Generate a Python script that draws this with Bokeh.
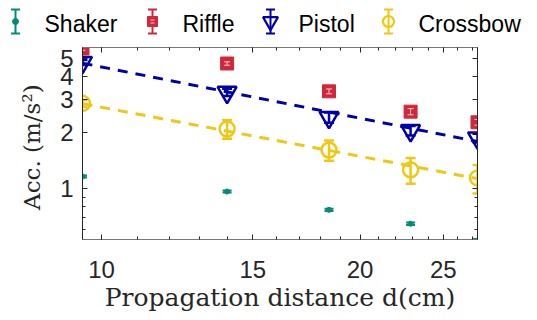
from bokeh.plotting import figure
from bokeh.models import LogAxis, FixedTicker, Range1d, CustomJSTickFormatter
from bokeh.layouts import column
from bokeh.embed import file_html
from bokeh.resources import INLINE
from bokeh.core.properties import value

# ---------------- data ----------------
distance = [9.5, 14.0, 18.4, 22.9, 27.4]

shaker = [1.16, 0.963, 0.768, 0.646, 0.525]
shaker_err = [0.015, 0.012, 0.01, 0.01, 0.01]

riffle = [5.66, 4.70, 3.33, 2.59, 2.27]
riffle_err = [0.12, 0.1, 0.1, 0.1, 0.08]

pistol = [4.76, 3.29, 2.41, 2.05, 1.87]
pistol_err = [0.15, 0.15, 0.15, 0.12, 0.1]

crossbow = [2.87, 2.09, 1.61, 1.26, 1.14]
crossbow_err = [0.12, 0.24, 0.2, 0.2, 0.2]

fit_x = [9.5, 27.4]
pistol_fit = [4.72, 1.79]
crossbow_fit = [2.86, 1.13]

x_ticks = [10, 15, 20, 25]
x_minor = list(range(9, 29))
y_ticks = [1, 2, 3, 4, 5]
y_minor = [0.6, 0.7, 0.8, 0.9]

names = ["Shaker", "Riffle", "Pistol", "Crossbow"]
colors = ["#008b7b", "#d0283a", "#0000a8", "#eec815"]

SANS = "Liberation Sans"
SERIF = "DejaVu Serif"

W = 536
LEG_H = 37
MAIN_H = 282

# ---------------- legend strip ----------------
leg = figure(width=W, height=LEG_H, x_range=Range1d(0, W), y_range=Range1d(0, LEG_H),
             toolbar_location=None, output_backend="svg", min_border=0, frame_align=False)
leg.axis.visible = False
leg.grid.visible = False
leg.outline_line_color = None

icon_x = [15, 152, 270, 388]
text_x = [44, 182, 298, 418]
icon_y = 16
text_y = 13.5
half = 12
for i, (nm, c) in enumerate(zip(names, colors)):
    ix = icon_x[i]
    leg.segment(x0=[ix], y0=[icon_y - half], x1=[ix], y1=[icon_y + half], line_color=c, line_width=2)
    leg.scatter(x=[ix, ix], y=[icon_y - half, icon_y + half], marker="dash", size=9,
                line_color=c, line_width=2)
    if nm == "Shaker":
        leg.scatter(x=[ix], y=[icon_y], marker="circle", size=6, fill_color=c, line_color=c)
    elif nm == "Riffle":
        leg.scatter(x=[ix], y=[icon_y], marker="square", size=10, fill_color=c, line_color=c)
        leg.segment(x0=[ix - 2, ix - 2], y0=[icon_y - 1.5, icon_y + 1.5],
                    x1=[ix + 2, ix + 2], y1=[icon_y - 1.5, icon_y + 1.5],
                    line_color="#f3c6ca", line_width=1)
    elif nm == "Pistol":
        leg.scatter(x=[ix], y=[icon_y], marker="inverted_triangle", size=15, fill_color=None,
                    line_color=c, line_width=2.2)
    else:
        leg.scatter(x=[ix], y=[icon_y], marker="circle", size=11, fill_color=None,
                    line_color=c, line_width=2.2)
    leg.text(x=[text_x[i]], y=[text_y], text=[nm], text_font=value(SANS), text_font_size="23px",
             text_baseline="middle", text_align="left", text_color="#000000")

# ---------------- main plot ----------------
p = figure(width=W, height=MAIN_H, x_axis_type="log", y_axis_type="log",
           x_range=Range1d(9.5, 27.4), y_range=Range1d(0.532, 5.73),
           toolbar_location=None, output_backend="svg", frame_align=False,
           min_border_left=82, min_border_right=59, min_border_top=10, min_border_bottom=80)
p.grid.visible = False
p.outline_line_color = "#555555"
p.outline_line_width = 1
p.background_fill_color = "white"

# fit lines
p.line(fit_x, pistol_fit, line_color=colors[2], line_width=3, line_dash="10 8")
p.line(fit_x, crossbow_fit, line_color=colors[3], line_width=3, line_dash="10 8")


def errbars(vals, errs, color, cap, lw):
    lo = [v - e for v, e in zip(vals, errs)]
    hi = [v + e for v, e in zip(vals, errs)]
    p.segment(x0=distance, y0=lo, x1=distance, y1=hi, line_color=color, line_width=lw)
    p.scatter(x=distance, y=lo, marker="dash", size=cap, line_color=color, line_width=lw)
    p.scatter(x=distance, y=hi, marker="dash", size=cap, line_color=color, line_width=lw)


# Shaker
errbars(shaker, shaker_err, colors[0], 9, 2)
p.scatter(distance, shaker, marker="circle", size=5, fill_color=colors[0], line_color=colors[0])

# Crossbow
errbars(crossbow, crossbow_err, colors[3], 10, 2.5)
p.scatter(distance, crossbow, marker="circle", size=15, fill_color=None,
          line_color=colors[3], line_width=2.5)

# Pistol
errbars(pistol, pistol_err, colors[2], 10, 2.5)
p.scatter(distance, pistol, marker="inverted_triangle", size=19, fill_color=None,
          line_color=colors[2], line_width=2.5)

# Riffle
p.scatter(distance, riffle, marker="square", size=13, fill_color=colors[1], line_color=colors[1])
errbars(riffle, riffle_err, "#f3c6ca", 6, 1)

# axes styling
for ax in (p.xaxis[0], p.yaxis[0]):
    ax.major_tick_in = 5
    ax.major_tick_out = 0
    ax.minor_tick_in = 3
    ax.minor_tick_out = 0
    ax.major_tick_line_color = "#262626"
    ax.minor_tick_line_color = "#262626"
    ax.major_label_text_font = SANS
    ax.major_label_text_font_size = "24px"
    ax.major_label_text_color = "#262626"
    ax.axis_label_text_font = SERIF
    ax.axis_label_text_font_style = "normal"
    ax.axis_label_text_color = "#262626"

p.xaxis[0].ticker = FixedTicker(ticks=x_ticks, minor_ticks=x_minor)
p.yaxis[0].ticker = FixedTicker(ticks=y_ticks, minor_ticks=y_minor)
p.xaxis[0].axis_line_color = "#777777"
p.yaxis[0].axis_line_color = "#262626"
p.xaxis[0].major_label_standoff = 21
p.yaxis[0].major_label_standoff = 9
p.xaxis[0].axis_label = "Propagation distance d(cm)"
p.yaxis[0].axis_label = "Acc.  (m/s²)"
p.xaxis[0].axis_label_text_font_size = "25px"
p.yaxis[0].axis_label_text_font_size = "23px"
p.xaxis[0].axis_label_standoff = 2
p.yaxis[0].axis_label_standoff = 12

blank = CustomJSTickFormatter(code="return ''")
top = LogAxis(ticker=FixedTicker(ticks=x_ticks, minor_ticks=x_minor), formatter=blank)
right = LogAxis(ticker=FixedTicker(ticks=y_ticks, minor_ticks=y_minor), formatter=blank)
for ax in (top, right):
    ax.major_tick_in = 5
    ax.major_tick_out = 0
    ax.minor_tick_in = 3
    ax.minor_tick_out = 0
    ax.major_label_standoff = 0
    ax.major_label_text_font_size = "1px"
    ax.major_tick_line_color = "#262626"
    ax.minor_tick_line_color = "#262626"
top.axis_line_color = "#777777"
right.axis_line_color = "#262626"
p.add_layout(top, "above")
p.add_layout(right, "right")

layout = column(leg, p, spacing=0)
open("out.html", "w").write(file_html(layout, INLINE))
